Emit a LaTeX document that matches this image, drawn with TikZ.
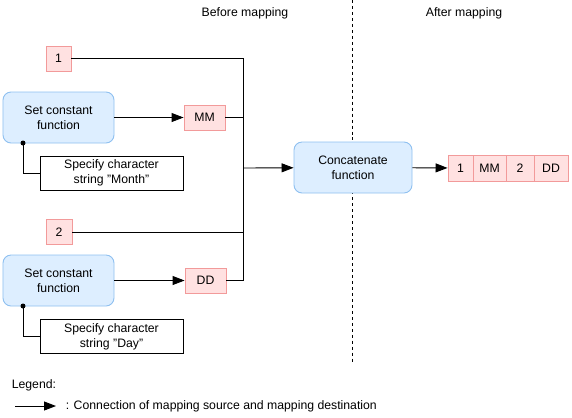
\documentclass[tikz,border=0pt]{standalone}
\usepackage{fontspec}
\setmainfont{Liberation Sans}
\usepackage{tikz}
\usetikzlibrary{positioning,arrows.meta}

\definecolor{valfill}{HTML}{FFE1E1}
\definecolor{valdraw}{HTML}{F29A9A}
\definecolor{funcfill}{HTML}{DDEEFF}
\definecolor{funcdraw}{HTML}{8EC0F0}

\tikzset{
  valbox/.style={draw=valdraw,fill=valfill,minimum height=25bp,inner sep=0pt},
  funcbox/.style={draw=funcdraw,fill=funcfill,rounded corners=8bp,align=center,
    minimum width=111bp,minimum height=51bp,inner sep=0pt},
  notebox/.style={draw=black,align=center,minimum width=143bp,minimum height=34bp,inner sep=0pt},
}

\begin{document}
\begin{tikzpicture}[>={Triangle[length=12bp,width=9bp]},x=1bp,y=-1bp,
  every node/.style={font=\fontsize{12.3}{15}\selectfont},line width=0.9bp]
\useasboundingbox (0,0) rectangle (572,417);
%%
\node (hdr_before) at (245,13) {Before mapping};
  \node (hdr_after) at (464,13) {After mapping};
  \draw [dashed] (352,0) -- (352,362);
%
\node (val_1) at (58.5,58.5) [valbox,minimum width=25bp] {1};
  \node (set_1) at (58.5,117.5) [funcbox] {Set constant\\function};
  \node (val_mm) at (204.5,117.5) [valbox,minimum width=41bp] {MM};
  \node (note_1) at (111.5,173) [notebox] {Specify character\\string "Month"};
  \coordinate (dot_1) at (23,143);
%
\node (val_2) at (59,232) [valbox,minimum width=26bp] {2};
  \node (set_2) at (58.5,280.5) [funcbox] {Set constant\\function};
  \node (val_dd) at (205.5,280.5) [valbox,minimum width=41bp] {DD};
  \node (note_2) at (111.5,336.5) [notebox] {Specify character\\string "Day"};
  \coordinate (dot_2) at (23,306);
%
\coordinate (bus_top) at (243,58.5);
  \coordinate (bus_bot) at (243,280.5);
  \coordinate (bus_mid) at (243,168);
  \node (concat) at (353,167.5) [funcbox,minimum width=118bp] {Concatenate\\function};
%
\node (res_1) at (460.5,168) [valbox,minimum width=25bp,minimum height=26bp] {1};
  \node (res_mm) at (489.5,168) [valbox,minimum width=33bp,minimum height=26bp] {MM};
  \node (res_2) at (520,168) [valbox,minimum width=28bp,minimum height=26bp] {2};
  \node (res_dd) at (551,168) [valbox,minimum width=34bp,minimum height=26bp] {DD};
%
\draw [black] (val_1) -- (bus_top) -- (bus_bot) -- (val_dd);
  \draw [black] (val_mm) -- (val_mm -| bus_top);
  \draw [black] (val_2) -- (val_2 -| bus_top);
  \draw [black,->] (set_1) -- (val_mm);
  \draw [black,->] (set_2) -- (val_dd);
  \draw [black,->] (bus_mid) -- (concat);
  \draw [black,->] (concat) -- (res_1);
  \fill (dot_1) circle (2.5bp);
  \fill (dot_2) circle (2.5bp);
  \draw [black] (dot_1) |- (note_1);
  \draw [black] (dot_2) |- (note_2);
%
\node (legend) at (8,385) [anchor=west] {Legend:};
  \coordinate (leg_a) at (15,406);
  \coordinate (leg_b) at (56,406);
  \draw [black,->] (leg_a) -- (leg_b);
  \node (leg_text) at (62,406) [anchor=west] {: Connection of mapping source and mapping destination};
%
\end{tikzpicture}
\end{document}
